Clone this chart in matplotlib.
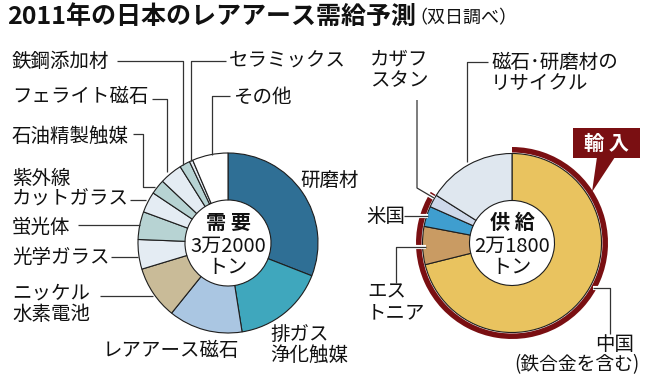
import matplotlib
matplotlib.use('Agg')
import matplotlib.pyplot as plt
from matplotlib.patches import Polygon, Rectangle
import matplotlib.patheffects as pe

plt.rcParams['font.family'] = ['Noto Sans CJK JP', 'DejaVu Sans']

W, H = 651, 388

# 需要 (トン) - 図から読み取った概算
demand_labels = ['研磨材', '排ガス浄化触媒', 'レアアース磁石', 'ニッケル水素電池', '光学ガラス', '蛍光体',
                 '紫外線カットガラス', '石油精製触媒', 'フェライト磁石', '鉄鋼添加材', 'セラミックス', 'その他']
demand_values = [9900, 5300, 4250, 3050, 1700, 1600, 1200, 850, 1300, 600, 200, 2050]
demand_colors = ['#2f6f95', '#3fa7bd', '#aac6e2', '#c9bb98', '#e4ecf3', '#b7d3d3',
                 '#e4ecf3', '#b7d3d3', '#e4ecf3', '#b7d3d3', '#e4ecf3', '#ffffff']

# 供給 (トン)
supply_labels = ['中国', 'エストニア', '米国', 'カザフスタン', '磁石・研磨材のリサイクル']
supply_values = [15500, 1500, 800, 500, 3500]
supply_colors = ['#e9c35f', '#c99b63', '#3f9ecf', '#cdd8ea', '#dfe7ef']
imported = [True, True, True, True, False]

DARKRED = '#7a0f12'
LINE = '#333333'
FS = 14


def Y(y):
    # 上からのピクセル位置 -> データ座標
    return H - y


fig = plt.figure(figsize=(W / 100, H / 100), dpi=100)
ax = fig.add_axes([0, 0, 1, 1])

edge = dict(edgecolor='#1e1e1e', linewidth=0.8)

# 需要の円
ax.pie(demand_values, colors=demand_colors, center=(228, Y(243)), radius=90,
       startangle=90, counterclock=False, wedgeprops=dict(width=47, **edge))

# 輸入のリング
ring_vals = [sum(v for v, m in zip(supply_values, imported) if m),
             sum(v for v, m in zip(supply_values, imported) if not m)]
ax.pie(ring_vals, colors=[DARKRED, 'none'], center=(512, Y(243)), radius=96,
       startangle=90, counterclock=False, wedgeprops=dict(width=5.5, linewidth=0))

# 供給の円
ax.pie(supply_values, colors=supply_colors, center=(512, Y(243)), radius=89.5,
       startangle=90, counterclock=False, wedgeprops=dict(width=47, **edge))

ax.set_xlim(0, W)
ax.set_ylim(0, H)
ax.set_aspect('equal')
ax.axis('off')


def leader(pts, halo=False):
    xs = [p[0] for p in pts]
    ys = [Y(p[1]) for p in pts]
    kw = {}
    if halo:
        kw['path_effects'] = [pe.Stroke(linewidth=3, foreground='white'), pe.Normal()]
    ax.plot(xs, ys, color=LINE, lw=0.9, solid_capstyle='butt', zorder=5, **kw)


def label(x, y, s, ha='left', size=FS, **kw):
    ax.text(x, Y(y), s, ha=ha, va='center', fontsize=size, color='#111111',
            linespacing=1.0, zorder=6, **kw)


# タイトル
t = ax.text(7, Y(17), '2011年の日本のレアアース需給予測', ha='left', va='center',
            fontsize=18, fontweight='bold', color='#111111')
fig.canvas.draw()
bb = t.get_window_extent()
ax.text(bb.x1 - 7, Y(18), '（双日調べ）', ha='left', va='center', fontsize=13, color='#111111')

# 需要のラベル
label(300, 180, '研磨材')
label(270, 345, '排ガス\n浄化触媒')
label(103, 350, 'レアアース磁石')
label(12, 304, 'ニッケル\n水素電池')
leader([(100, 296), (153, 296)])
label(12, 257, '光学ガラス')
leader([(111, 257), (138, 257)])
label(12, 227, '蛍光体')
leader([(78, 225), (140, 225)])
label(12, 189, '紫外線\nカットガラス')
leader([(130, 200), (146, 200)])
label(12, 136, '石油精製触媒')
leader([(133, 134), (143, 134), (143, 187), (155, 187)])
label(12, 97, 'フェライト磁石')
leader([(152, 99), (167, 99), (167, 172)])
label(12, 61, '鉄鋼添加材')
leader([(117, 61), (183, 61), (183, 165)])
label(229, 61, 'セラミックス')
leader([(226, 61), (191, 61), (191, 161)])
label(233, 97, 'その他')
leader([(230, 96), (212, 96), (212, 155)])

ax.text(228, Y(222), '需 要', ha='center', va='center', fontsize=14.5, fontweight='bold', color='#111111')
ax.text(228, Y(246), '3万2000', ha='center', va='center', fontsize=14.5, color='#111111')
ax.text(228, Y(268), 'トン', ha='center', va='center', fontsize=14.5, color='#111111')

# 供給のラベル
label(370, 70, 'カザフ\nスタン')
leader([(417, 100), (417, 188), (434, 198)], halo=True)
label(491, 73, '磁石･研磨材の\nリサイクル')
leader([(488, 62), (467, 62), (467, 162)])
label(366, 216, '米国')
leader([(404, 216), (428, 216)], halo=True)
label(367, 302, 'エス\nトニア')
leader([(396, 283), (396, 247), (426, 247)], halo=True)
label(595, 345, '中国')
label(640, 365, '(鉄合金を含む)', ha='right', size=13.5)
leader([(593, 288), (610, 288), (610, 334)], halo=True)

ax.text(512, Y(222), '供 給', ha='center', va='center', fontsize=14.5, fontweight='bold', color='#111111')
ax.text(512, Y(246), '2万1800', ha='center', va='center', fontsize=14.5, color='#111111')
ax.text(512, Y(268), 'トン', ha='center', va='center', fontsize=14.5, color='#111111')

# 輸入の吹き出し
ax.add_patch(Rectangle((573, Y(158)), 67, 30, facecolor=DARKRED, edgecolor='none', zorder=7))
ax.add_patch(Polygon([(597, Y(157)), (615, Y(157)), (592, Y(192))], closed=True,
                     facecolor=DARKRED, edgecolor='none', zorder=7))
ax.text(606.5, Y(143), '輸 入', ha='center', va='center', fontsize=14.5, fontweight='bold',
        color='white', zorder=8)

fig.savefig('out.png', dpi=100)
